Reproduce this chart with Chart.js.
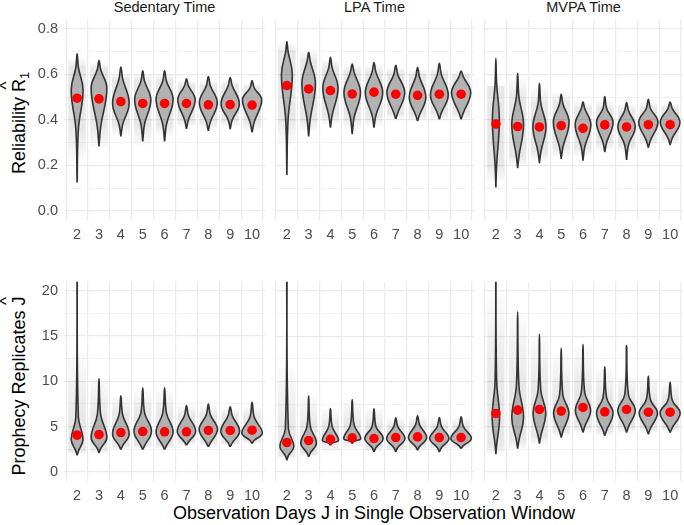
<!DOCTYPE html>
<html>
<head>
<meta charset="utf-8">
<title>Reliability and Prophecy Replicates by Observation Days</title>
<script src="https://cdn.jsdelivr.net/npm/chart.js@4.4.1/dist/chart.umd.min.js"></script>
<style>
  html, body { margin: 0; padding: 0; background: #fff; }
  body {
    width: 684px; height: 525px; position: relative; overflow: hidden;
    font-family: "Liberation Sans", Arial, sans-serif;
  }
  canvas { position: absolute; }
  .strip {
    position: absolute; top: -1px; width: 201px; text-align: center;
    font-size: 14.5px; line-height: 16px; color: #1a1a1a;
  }
  .ytitle {
    position: absolute; white-space: nowrap; font-size: 18px; line-height: 20px;
    transform: translate(-50%, -50%) rotate(-90deg); color: #000;
  }
  .xtitle {
    position: absolute; left: 64px; width: 620px; top: 503px; text-align: center;
    font-size: 18px; line-height: 20px; color: #000;
  }
  .hat { position: relative; display: inline-block; }
  .hat i {
    position: absolute; left: 0; right: 0; top: -0.72em; text-align: center;
    font-style: normal; font-size: 0.95em;
  }
  sub { font-size: 0.7em; vertical-align: -0.3em; line-height: 0; }
</style>
</head>
<body>
  <div class="strip" style="left:64px">Sedentary Time</div>
  <div class="strip" style="left:274px">LPA Time</div>
  <div class="strip" style="left:483px">MVPA Time</div>
  <div class="ytitle" style="left:18.5px; top:123px">Reliability <span class="hat">R<i>^</i></span><sub>1</sub></div>
  <div class="ytitle" style="left:18.5px; top:386px">Prophecy Replicates <span class="hat">J<i>^</i></span></div>
  <div class="xtitle">Observation Days J in Single Observation Window</div>

<script>
const days = [2, 3, 4, 5, 6, 7, 8, 9, 10];

// y ticks: majors carry a label, minors are blank
const relTicks = [0, 0.1, 0.2, 0.3, 0.4, 0.5, 0.6, 0.7, 0.8];
const relTickLabels = ['0.0', '', '0.2', '', '0.4', '', '0.6', '', '0.8'];
const repTicks = [0, 2.5, 5, 7.5, 10, 12.5, 15, 17.5, 20];
const repTickLabels = ['0', '', '5', '', '10', '', '15', '', '20'];

// rows: Sedentary, LPA, MVPA ; columns: days 2..10
// reliability R1
const relMean = [
  [.495, .492, .480, .472, .472, .472, .466, .467, .465],
  [.551, .536, .529, .514, .522, .513, .508, .513, .513],
  [.382, .371, .369, .375, .363, .378, .369, .379, .379]];
const relTipLo = [
  [.125, .283, .327, .305, .305, .360, .352, .360, .345],
  [.158, .327, .366, .337, .366, .404, .395, .403, .403],
  [.103, .188, .210, .229, .221, .258, .224, .278, .290]];
const relTipHi = [
  [.690, .660, .632, .615, .615, .580, .590, .586, .573],
  [.744, .697, .675, .646, .652, .640, .630, .649, .615],
  [.671, .605, .561, .513, .480, .503, .476, .491, .478]];
const relBodyLo = [
  [.36, .37, .38, .38, .38, .40, .39, .40, .39],
  [.40, .40, .42, .41, .42, .43, .42, .43, .43],
  [.20, .24, .26, .28, .28, .30, .29, .31, .32]];
const relBodyHi = [
  [.63, .62, .58, .57, .57, .55, .55, .55, .54],
  [.70, .66, .63, .61, .61, .60, .59, .60, .59],
  [.56, .50, .47, .47, .45, .45, .44, .45, .45]];
const relPeak = [
  [.53, .54, .473, .488, .49, .488, .475, .47, .488],
  [.60, .56, .54, .52, .52, .52, .50, .51, .52],
  [.40, .38, .37, .39, .38, .39, .37, .39, .39]];
const relWidth = [
  [.27, .36, .38, .37, .39, .40, .41, .42, .44],
  [.25, .31, .35, .38, .40, .41, .38, .41, .44],
  [.16, .27, .30, .36, .36, .38, .40, .44, .45]];
const relPtLo = [
  [.22, .28, .33, .29, .33, .37, .36, .37, .35],
  [.30, .35, .38, .36, .37, .40, .40, .40, .40],
  [.13, .20, .22, .24, .24, .27, .26, .29, .30]];
const relPtHi = [
  [.67, .65, .60, .60, .60, .57, .57, .57, .56],
  [.73, .70, .66, .64, .64, .63, .62, .63, .61],
  [.55, .58, .54, .52, .48, .48, .47, .48, .47]];

// prophecy replicates J
const repMean = [
  [4.06, 4.13, 4.35, 4.46, 4.43, 4.43, 4.58, 4.58, 4.61],
  [3.25, 3.47, 3.60, 3.76, 3.69, 3.80, 3.87, 3.80, 3.80],
  [6.46, 6.83, 6.90, 6.72, 7.12, 6.64, 6.90, 6.60, 6.60]];
const repTipLo = [
  [1.85, 2.10, 2.47, 2.47, 2.47, 2.95, 2.77, 2.77, 3.14],
  [1.30, 1.66, 2.95, 3.15, 2.20, 2.20, 2.40, 2.20, 2.58],
  [1.96, 2.58, 3.14, 3.80, 4.35, 3.99, 4.35, 4.17, 4.35]];
const repTipHi = [
  [22, 10.3, 8.4, 9.3, 9.3, 7.34, 7.5, 7.2, 7.7],
  [22, 8.4, 7.0, 8.0, 6.97, 5.98, 6.2, 6.0, 6.1],
  [22, 17.7, 15.2, 13.65, 14.1, 11.6, 13.95, 10.6, 9.9]];
const repBodyLo = [
  [2.3, 2.6, 2.9, 2.9, 2.9, 3.3, 3.2, 3.2, 3.5],
  [1.8, 2.1, 3.2, 3.4, 2.7, 2.7, 2.8, 2.7, 2.9],
  [3.0, 3.5, 4.0, 4.5, 5.0, 4.6, 5.0, 4.8, 4.9]];
const repBodyHi = [
  [6.0, 6.3, 6.3, 6.5, 6.5, 6.2, 6.3, 6.2, 6.0],
  [4.8, 5.0, 5.0, 5.2, 5.0, 5.0, 5.2, 5.0, 5.0],
  [10, 9.5, 9.0, 8.5, 8.8, 8.2, 8.5, 8.0, 7.9]];
const repPeak = [
  [3.6, 3.8, 4.2, 4.5, 4.4, 4.5, 4.7, 4.5, 4.3],
  [2.8, 3.2, 3.5, 3.7, 3.7, 3.7, 3.8, 3.7, 3.7],
  [6.0, 6.0, 6.5, 6.5, 6.8, 6.5, 6.8, 6.5, 6.5]];
const repWidth = [
  [.27, .36, .38, .40, .39, .42, .42, .43, .47],
  [.32, .36, .37, .39, .42, .42, .42, .44, .47],
  [.17, .27, .29, .35, .35, .38, .40, .42, .46]];
const repPtLo = [
  [2.0, 2.0, 2.5, 2.6, 2.6, 3.0, 2.9, 3.0, 3.1],
  [1.5, 1.7, 2.2, 2.6, 2.3, 2.4, 2.4, 2.5, 2.6],
  [2.0, 2.5, 3.0, 4.0, 4.3, 4.0, 4.3, 4.3, 4.5]];
const repPtHi = [
  [13, 10.3, 8.3, 9.0, 9.0, 7.3, 7.3, 7.0, 7.2],
  [11.5, 8.5, 7.0, 8.0, 7.0, 6.0, 6.2, 6.0, 6.0],
  [19.5, 17.5, 15, 13, 14, 11.5, 10.5, 10.5, 9.8]];

const rows = [
  { mean: relMean, lo: relTipLo, hi: relTipHi, bLo: relBodyLo, bHi: relBodyHi, peak: relPeak,
    w: relWidth, pLo: relPtLo, pHi: relPtHi, ticks: relTicks, labels: relTickLabels, min: -0.04, max: 0.84 },
  { mean: repMean, lo: repTipLo, hi: repTipHi, bLo: repBodyLo, bHi: repBodyHi, peak: repPeak,
    w: repWidth, pLo: repPtLo, pHi: repPtHi, ticks: repTicks, labels: repTickLabels, min: -1, max: 21 }
];

const colLeft = [64, 274, 483], colRight = [265, 474, 683];
const rowTop = [20, 282], rowBottom = [220, 481];
const FONT = '"Liberation Sans", Arial, sans-serif';

function violinPath(x, lo, bLo, peak, bHi, hi, w) {
  const n = 0.22 * w;
  return [
    {x: x, y: lo}, {x: x + n, y: bLo}, {x: x + w, y: peak}, {x: x + n, y: bHi}, {x: x, y: hi},
    {x: x - n, y: bHi}, {x: x - w, y: peak}, {x: x - n, y: bLo}, {x: x, y: lo}
  ];
}

// soft vertical fade for the jittered point cloud
function cloudColor(d, c) {
  return (context) => {
    const chart = context.chart;
    const i = context.dataIndex;
    const ys = chart.scales.y;
    if (i == null || !ys || !chart.chartArea) return 'rgba(0,0,0,0.05)';
    const top = ys.getPixelForValue(d.pHi[c][i]);
    const bot = ys.getPixelForValue(d.pLo[c][i]);
    if (!Number.isFinite(top) || !Number.isFinite(bot) || bot - top < 1) return 'rgba(0,0,0,0.05)';
    const s1 = Math.min(Math.max((ys.getPixelForValue(d.bHi[c][i]) - top) / (bot - top), 0), 1);
    const s2 = Math.min(Math.max((ys.getPixelForValue(d.bLo[c][i]) - top) / (bot - top), s1), 1);
    const g = chart.ctx.createLinearGradient(0, top, 0, bot);
    g.addColorStop(0, 'rgba(0,0,0,0.015)');
    g.addColorStop(s1, 'rgba(0,0,0,0.09)');
    g.addColorStop(s2, 'rgba(0,0,0,0.09)');
    g.addColorStop(1, 'rgba(0,0,0,0.015)');
    return g;
  };
}

function drawPanel(r, c) {
  const d = rows[r];
  const yAxisW = c === 0 ? 40 : 0;
  const xAxisH = 30;
  const canvas = document.createElement('canvas');
  let W = colRight[c] - colLeft[c] + yAxisW;
  let H = rowBottom[r] - rowTop[r] + xAxisH;
  canvas.width = W;
  canvas.height = H;
  canvas.style.left = (colLeft[c] - yAxisW) + 'px';
  canvas.style.top = rowTop[r] + 'px';
  document.body.appendChild(canvas);

  const datasets = [];
  datasets.push({
    type: 'line', order: 0, showLine: false,
    data: days.map((x, i) => ({x: x, y: d.mean[c][i]})),
    pointRadius: 4.8, pointHoverRadius: 4.8, pointBackgroundColor: '#ff0000', pointBorderWidth: 0
  });
  days.forEach((x, i) => {
    datasets.push({
      type: 'line', order: 1,
      data: violinPath(x, d.lo[c][i], d.bLo[c][i], d.peak[c][i], d.bHi[c][i], d.hi[c][i], d.w[c][i]),
      borderColor: '#333333', borderWidth: 1.6, pointRadius: 0, pointHoverRadius: 0, tension: 0.4,
      fill: 'shape', backgroundColor: 'rgba(95,95,95,0.4)'
    });
  });
  datasets.push({
    type: 'bar', order: 2, grouped: false,
    data: days.map((x, i) => ({x: x, y: [d.pLo[c][i], d.pHi[c][i]]})),
    backgroundColor: cloudColor(d, c), borderWidth: 0, barPercentage: 0.8, categoryPercentage: 1
  });

  const chart = new Chart(canvas, {
    type: 'line',
    data: { datasets: datasets },
    options: {
      responsive: false,
      maintainAspectRatio: false,
      animation: false,
      events: [],
      layout: { padding: 0 },
      plugins: { legend: { display: false }, tooltip: { enabled: false } },
      scales: {
        x: {
          type: 'linear', min: 1.4, max: 10.6, offset: false,
          afterBuildTicks: a => { a.ticks = days.map(v => ({value: v})); },
          afterFit: a => { a.height = xAxisH; },
          grid: { color: '#ebebeb', lineWidth: 1.2, drawTicks: false },
          border: { display: false },
          ticks: {
            padding: 6, color: '#4d4d4d', maxRotation: 0, autoSkip: false,
            font: { size: 14.5, family: FONT },
            callback: v => String(v)
          }
        },
        y: {
          type: 'linear', min: d.min, max: d.max,
          afterBuildTicks: a => { a.ticks = d.ticks.map(v => ({value: v})); },
          afterFit: a => { a.width = yAxisW; },
          grid: {
            color: '#ebebeb', drawTicks: false,
            lineWidth: ctx => (ctx.index % 2 === 0 ? 1.2 : 0.6)
          },
          border: { display: false },
          ticks: {
            display: c === 0, padding: 6, color: '#4d4d4d',
            font: { size: 14.5, family: FONT },
            callback: (v, i) => d.labels[i]
          }
        }
      }
    }
  });

  // Chart.js reserves some auto padding; grow the canvas so the plot area lands on the panel
  for (let k = 0; k < 2; k++) {
    const a = chart.chartArea;
    const padL = a.left, padT = a.top, padR = chart.width - a.right, padB = chart.height - a.bottom;
    W = Math.round(colRight[c] - colLeft[c] + padL + padR);
    H = Math.round(rowBottom[r] - rowTop[r] + padT + padB);
    canvas.style.left = (colLeft[c] - padL) + 'px';
    canvas.style.top = (rowTop[r] - padT) + 'px';
    chart.resize(W, H);
  }
}

for (let r = 0; r < 2; r++) {
  for (let c = 0; c < 3; c++) drawPanel(r, c);
}
</script>
</body>
</html>
